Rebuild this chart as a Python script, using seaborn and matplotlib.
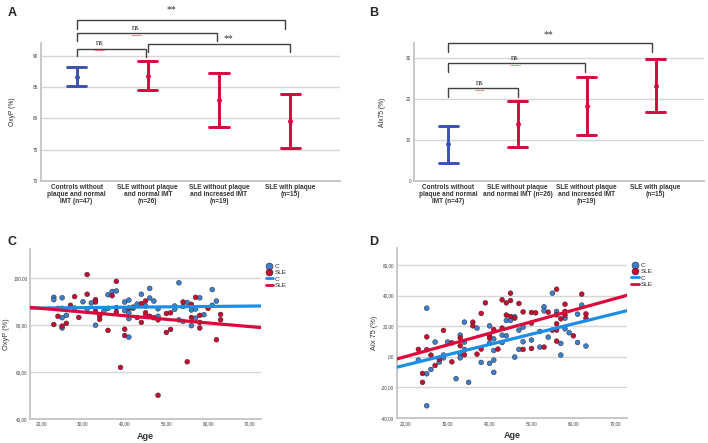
import pandas as pd
import seaborn as sns
import matplotlib.pyplot as plt

# ---- data: panels A and B (mean with 95% CI limits) ----
groups = ['Controls without\nplaque and normal\nIMT (n=47)',
          'SLE without plaque\nand normal IMT\n(n=26)',
          'SLE without plaque\nand increased IMT\n(n=19)',
          'SLE with plaque\n(n=15)']
groups_b = ['Controls without\nplaque and normal\nIMT (n=47)',
            'SLE without plaque\nand normal IMT (n=26)',
            'SLE without plaque\nand increased IMT\n(n=19)',
            'SLE with plaque\n(n=15)']
oxyp_lo = [85.2, 84.5, 78.6, 75.2]
oxyp_hi = [88.1, 89.1, 87.2, 83.8]
aix_lo = [4.5, 8.3, 11.1, 16.8]
aix_hi = [13.3, 19.5, 25.3, 29.7]

# ---- data: panels C and D (individual subjects) ----
c_age_oxy = [23, 23, 25, 25, 25, 26, 28, 30, 31, 32, 33, 35, 36, 36, 37, 38, 40, 40, 41, 41,
             41, 41, 42, 43, 44, 45, 45, 46, 46, 47, 48, 48, 52, 52, 53, 53, 54, 54, 55, 56,
             56, 57, 57, 58, 59, 61, 61, 62]
c_oxy = [91.9, 90.9, 91.7, 83.2, 78.8, 84.2, 87.3, 90.0, 87.0, 89.5, 80.0, 86.0, 93.0, 87.2,
         94.4, 94.6, 89.9, 86.2, 90.7, 85.3, 82.8, 74.9, 87.2, 89.0, 93.2, 88.2, 83.9, 95.7,
         91.6, 90.3, 87.0, 83.8, 88.2, 86.8, 98.1, 82.3, 88.0, 81.6, 89.7, 86.5, 79.8, 86.9,
         83.0, 91.7, 84.5, 95.2, 88.5, 90.3]
sle_age_oxy = [23, 24, 24, 25, 25, 26, 27, 28, 29, 31, 31, 33, 33, 33, 34, 34, 36, 37, 38, 38,
               38, 39, 40, 40, 41, 42, 43, 44, 44, 45, 45, 46, 47, 48, 48, 50, 50, 51, 51, 54,
               55, 56, 56, 57, 58, 58, 58, 60, 62, 63, 63]
sle_oxy = [80.3, 87.2, 83.8, 87.2, 79.6, 80.8, 88.5, 92.2, 83.3, 101.6, 93.2, 90.9, 89.9, 86.0,
           84.0, 82.5, 77.8, 92.6, 98.7, 87.5, 85.6, 62.0, 78.3, 75.6, 87.3, 87.7, 83.3, 89.2,
           81.2, 90.3, 85.3, 83.8, 83.2, 82.3, 50.1, 85.0, 76.9, 85.3, 78.2, 89.9, 64.4, 88.9,
           83.3, 91.9, 84.2, 81.2, 78.8, 87.2, 73.8, 84.6, 82.3]

c_age_aix = [23, 25, 25, 25, 26, 27, 28, 29, 29, 30, 32, 33, 33, 33, 34, 34, 34, 35, 37, 38,
             40, 40, 40, 41, 41, 41, 41, 43, 43, 44, 44, 45, 46, 46, 47, 47, 48, 48, 50, 52,
             52, 53, 53, 54, 55, 56, 57, 57, 58, 58, 59, 61, 61, 62, 63]
c_aix = [-2.2, 31.7, -11.1, -32.0, -8.3, 9.6, -3.5, 1.1, -0.7, 9.6, -14.3, 14.1, 1.7, -0.7,
         22.6, 9.6, 4.8, -16.7, 18.7, -3.7, 20.2, 8.9, -4.3, 11.7, 4.1, -2.2, -10.2, 14.1, 9.3,
         23.7, 13.7, 23.7, 26.1, -0.2, 17.4, 4.8, 19.3, 9.8, 10.9, 16.5, 6.3, 32.6, 30.0, 12.8,
         41.5, 29.6, 8.7, 1.1, 25.2, 18.3, 15.7, 27.8, 9.3, 33.7, 7.0]
sle_age_aix = [23, 24, 24, 25, 25, 26, 27, 28, 29, 31, 31, 33, 33, 34, 36, 36, 37, 38, 38, 39,
               40, 40, 41, 42, 43, 43, 44, 44, 45, 45, 45, 46, 47, 48, 48, 50, 50, 50, 51, 53,
               54, 55, 56, 56, 56, 56, 56, 57, 58, 58, 58, 60, 62, 63, 63]
sle_aix = [4.8, -10.9, -16.7, 13.0, 4.6, 1.1, -5.7, -1.7, 17.2, 9.1, -3.3, 12.2, 7.2, 1.3, 22.6,
           20.2, 1.7, 28.3, 5.0, 35.2, 13.9, 12.2, 17.8, 5.0, 37.2, 18.7, 35.2, 27.2, 41.5, 36.7,
           26.3, 25.2, 34.8, 29.3, 4.8, 28.9, 22.0, 5.4, 28.7, 6.3, 29.1, 17.4, 44.1, 27.4, 21.5,
           17.4, 10.2, 24.8, 34.3, 29.6, 27.2, 13.7, 40.9, 28.0, 25.2]

bar_colors = ['#3a52ad', '#d8063c', '#d8063c', '#d8063c']
pt_colors = {'C': '#3c7fcf', 'SLE': '#cc0a30'}
line_colors = {'C': '#1b8fe6', 'SLE': '#dc0a3c'}

sns.set_style('white')
plt.rcParams['font.family'] = ['Liberation Sans', 'DejaVu Sans']

fig = plt.figure(figsize=(7.08, 4.43), dpi=100)
axA = fig.add_axes([0.0579, 0.5914, 0.4223, 0.3115])
axB = fig.add_axes([0.5847, 0.5914, 0.4096, 0.3115])
axC = fig.add_axes([0.0424, 0.0542, 0.3263, 0.3837])
axD = fig.add_axes([0.5607, 0.0564, 0.3249, 0.3837])


def style_axes(ax, ticks, labels, ylim):
    ax.set_ylim(*ylim)
    ax.set_yticks(ticks)
    ax.set_yticklabels(labels, fontsize=3.4, color='#444444')
    for t in ticks:
        if t > ylim[0]:
            ax.axhline(t, color='#d6d6d6', lw=1.0, zorder=0)
    for s in ['top', 'right']:
        ax.spines[s].set_visible(False)
    for s in ['left', 'bottom']:
        ax.spines[s].set_color('#c4c4c4')
        ax.spines[s].set_linewidth(1.3)
    ax.tick_params(length=0, pad=2)


def ci_plot(ax, names, lo, hi):
    df = pd.DataFrame({'group': names * 2, 'value': lo + hi})
    sns.pointplot(data=df, x='group', y='value', hue='group', order=names,
                  hue_order=names, palette=bar_colors, legend=False,
                  errorbar=lambda v: (v.min(), v.max()), capsize=0.27,
                  linestyle='none', marker='o', markersize=1.5,
                  err_kws={'linewidth': 2.1}, ax=ax)
    ax.set_xlim(-0.5, 3.7)
    ax.set_xlabel('')
    ax.set_xticks(range(4))
    ax.set_xticklabels(names, fontsize=4.7, fontweight='bold', color='#333333',
                       linespacing=1.0)


def bracket(ax, x0, x1, y, y0, y1, label, tx, ty):
    ax.plot([x0, x0, x1, x1], [y0, y, y, y1], color='#404040', lw=1.0,
            clip_on=False, solid_joinstyle='miter')
    is_ns = label == 'ns'
    ax.text(tx, ty, label, ha='center', va='center',
            fontsize=6.3 if is_ns else 7, family='Liberation Serif',
            color='#333333', clip_on=False)
    if is_ns:
        # red spell-check underline seen under "ns"
        span = (ax.get_ylim()[1] - ax.get_ylim()[0]) * 0.022
        ax.plot([tx - 0.07, tx + 0.07], [ty - span * 2.2] * 2, color='#e03030',
                lw=0.6, ls=(0, (1, 0.6)), clip_on=False)


# ---- Panel A ----
ci_plot(axA, groups, oxyp_lo, oxyp_hi)
style_axes(axA, [70, 75, 80, 85, 90], ['70', '75', '80', '85', '90'], (70, 92))
axA.set_ylabel('OxyP (%)', fontsize=4.8, labelpad=12)
bracket(axA, 0, 2.93, 95.7, 94.3, 94.3, '**', 1.33, 97.4)
bracket(axA, 0, 1.97, 93.65, 92.4, 92.4, 'ns', 0.83, 94.4)
bracket(axA, 0, 0.98, 91.1, 90.0, 89.7, 'ns', 0.32, 92.0)
bracket(axA, 1.0, 3.0, 91.9, 90.5, 90.5, '**', 2.13, 92.7)

# ---- Panel B ----
ci_plot(axB, groups_b, aix_lo, aix_hi)
style_axes(axB, [0, 10, 20, 30], ['0', '10', '20', '30'], (0, 33.6))
axB.set_ylabel('AIx75 (%)', fontsize=4.8, labelpad=14)
bracket(axB, 0, 2.95, 33.66, 31.5, 31.5, '**', 1.44, 35.7)
bracket(axB, 0, 1.98, 28.8, 26.6, 26.6, 'ns', 0.96, 29.9)
bracket(axB, 0, 1.0, 22.7, 20.5, 20.5, 'ns', 0.45, 23.9)


# ---- Panels C and D ----
def scatter_panel(ax, ages_c, vals_c, ages_s, vals_s, xlim, ylim, yticks, ylabel):
    df = pd.DataFrame({
        'Age': ages_c + ages_s,
        'val': vals_c + vals_s,
        'grp': ['C'] * len(ages_c) + ['SLE'] * len(ages_s),
    })
    ax.set_xlim(*xlim)
    sns.scatterplot(data=df, x='Age', y='val', hue='grp', palette=pt_colors,
                    s=12, edgecolor='#2a2a2a', linewidth=0.35, legend=False,
                    zorder=3, ax=ax)
    for g in ['C', 'SLE']:
        sub = df[df['grp'] == g]
        sns.regplot(data=sub, x='Age', y='val', scatter=False, ci=None,
                    truncate=False, color=line_colors[g],
                    line_kws={'linewidth': 2.3, 'zorder': 4}, ax=ax)
    ax.set_xlim(*xlim)
    ax.set_xticks([20, 30, 40, 50, 60, 70])
    ax.set_xticklabels(['20,00', '30,00', '40,00', '50,00', '60,00', '70,00'],
                       fontsize=3.4, color='#444444')
    ylabels = [',00' if t == 0 else f'{t},00' for t in yticks]
    style_axes(ax, yticks, ylabels, ylim)
    ax.set_xlabel('Age', fontsize=6.5, fontweight='bold', color='#333333', labelpad=4)
    ax.set_ylabel(ylabel, fontsize=5.3, color='#333333', labelpad=2)

    handles = [
        plt.Line2D([], [], marker='o', ls='none', markersize=5,
                   markerfacecolor=pt_colors['C'], markeredgecolor='#2a2a2a', markeredgewidth=0.4),
        plt.Line2D([], [], marker='o', ls='none', markersize=5,
                   markerfacecolor=pt_colors['SLE'], markeredgecolor='#2a2a2a', markeredgewidth=0.4),
        plt.Line2D([], [], color=line_colors['C'], lw=2.0),
        plt.Line2D([], [], color=line_colors['SLE'], lw=2.0),
    ]
    ax.legend(handles, ['C', 'SLE', 'C', 'SLE'], loc='upper left',
              bbox_to_anchor=(1.0, 0.94), frameon=False, fontsize=4.6,
              handlelength=1.2, handletextpad=0.3, labelspacing=0.12,
              borderaxespad=0.3)


scatter_panel(axC, c_age_oxy, c_oxy, sle_age_oxy, sle_oxy, (17.3, 72.7), (40, 112.5),
              [40, 60, 80, 100], 'OxyP (%)')
scatter_panel(axD, c_age_aix, c_aix, sle_age_aix, sle_aix, (17.9, 72.8), (-40, 71),
              [-40, -20, 0, 20, 40, 60], 'AIx 75 (%)')

for label, x, y in [('A', 0.011, 0.985), ('B', 0.521, 0.985),
                    ('C', 0.011, 0.468), ('D', 0.521, 0.468)]:
    fig.text(x, y, label, fontsize=9, fontweight='bold', va='top', ha='left')

fig.savefig('out.png', dpi=100, facecolor='white')
